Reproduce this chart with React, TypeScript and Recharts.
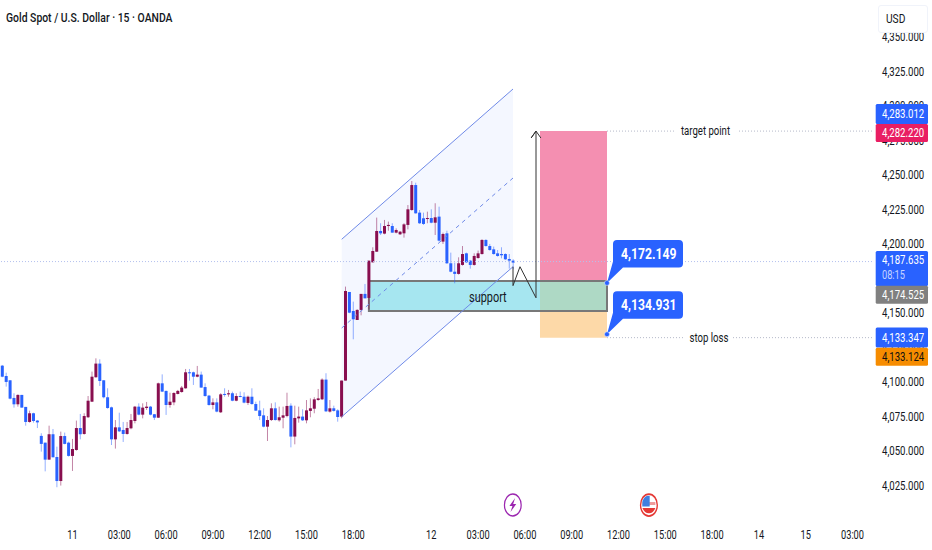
import {
  Area,
  Bar,
  ComposedChart,
  Line,
  ReferenceArea,
  ReferenceDot,
  ReferenceLine,
  XAxis,
  YAxis,
} from "recharts";

const FONT = "Roboto, sans-serif";
const UP = "#880e4f";
const DOWN = "#2962ff";

const opens = [
  4112.2, 4104.7, 4101.6, 4088.8, 4084.2, 4091.0, 4082.3, 4071.4, 4077.7, 4072.4,
  4061.3, 4056.4, 4044.1, 4062.5, 4046.0, 4028.6, 4061.2, 4056.4, 4046.8, 4051.1,
  4067.0, 4062.7, 4074.8, 4086.1, 4103.8, 4113.7, 4101.6, 4089.3, 4082.0, 4058.8,
  4067.5, 4065.6, 4062.7, 4066.8, 4072.1, 4082.5, 4076.7, 4081.5, 4082.5, 4077.0,
  4074.5, 4099.4, 4093.9, 4083.7, 4085.6, 4091.7, 4093.1, 4095.8, 4107.4, 4107.4,
  4104.2, 4105.7, 4096.7, 4090.5, 4083.7, 4085.6, 4078.4, 4091.7, 4091.4, 4092.2,
  4086.8, 4090.2, 4089.7, 4085.2, 4089.7, 4084.4, 4079.8, 4076.2, 4068.0, 4072.8,
  4081.3, 4072.6, 4074.5, 4075.7, 4083.2, 4060.8, 4074.0, 4075.3, 4072.6, 4079.4,
  4081.0, 4087.3, 4087.8, 4102.1, 4078.9, 4081.3, 4079.8, 4075.3, 4101.4, 4165.6,
  4151.8, 4145.3, 4152.6, 4164.2, 4161.3, 4187.1, 4194.8, 4209.8, 4207.9, 4213.4,
  4213.4, 4208.6, 4207.4, 4208.1, 4214.2, 4225.0, 4243.1, 4223.1, 4219.0, 4218.5,
  4219.2, 4215.8, 4220.2, 4202.1, 4208.1, 4186.4, 4180.3, 4178.7, 4185.2, 4193.6,
  4188.3, 4185.2, 4190.2, 4193.1, 4203.3, 4198.9, 4196.5, 4193.6, 4193.1, 4193.1,
  4189.5, 4188.3,
];
const closes = [
  4104.2, 4100.4, 4088.3, 4084.2, 4091.0, 4081.8, 4071.4, 4077.7, 4072.1, 4071.1,
  4055.5, 4044.1, 4062.5, 4045.8, 4028.6, 4061.2, 4055.5, 4046.8, 4051.8, 4067.0,
  4062.5, 4075.7, 4086.8, 4104.2, 4113.7, 4101.1, 4089.3, 4081.5, 4058.8, 4067.5,
  4064.6, 4062.7, 4067.0, 4072.8, 4082.5, 4076.7, 4081.8, 4082.5, 4076.7, 4074.5,
  4099.4, 4093.4, 4083.7, 4086.1, 4092.4, 4093.9, 4096.3, 4107.4, 4106.9, 4104.2,
  4105.7, 4096.3, 4090.2, 4083.7, 4085.6, 4078.9, 4091.4, 4091.2, 4092.2, 4086.8,
  4090.2, 4089.7, 4085.4, 4089.7, 4084.4, 4079.6, 4075.7, 4068.0, 4072.8, 4081.3,
  4072.8, 4074.8, 4076.2, 4083.0, 4060.8, 4074.3, 4075.3, 4072.6, 4079.8, 4081.3,
  4087.8, 4088.5, 4102.1, 4079.1, 4081.3, 4079.4, 4075.0, 4101.4, 4166.3, 4150.6,
  4145.8, 4152.6, 4164.2, 4161.0, 4188.3, 4195.3, 4209.8, 4208.1, 4213.4, 4214.2,
  4208.6, 4210.5, 4209.3, 4214.6, 4225.5, 4243.1, 4222.6, 4215.4, 4214.9, 4219.2,
  4215.8, 4219.7, 4202.8, 4207.6, 4186.4, 4180.3, 4178.7, 4186.4, 4193.1, 4187.1,
  4185.2, 4191.7, 4193.6, 4203.3, 4198.9, 4196.0, 4193.1, 4191.7, 4192.2, 4189.3,
  4188.3, 4186.9,
];
const highs = [
  4112.7, 4107.1, 4101.6, 4092.2, 4091.4, 4091.0, 4082.3, 4079.6, 4078.1, 4072.8,
  4063.2, 4056.4, 4068.7, 4066.3, 4053.5, 4064.4, 4063.7, 4057.1, 4059.1, 4072.4,
  4077.2, 4077.7, 4090.2, 4107.9, 4117.5, 4116.8, 4101.8, 4095.8, 4082.5, 4072.8,
  4078.1, 4071.4, 4071.4, 4077.2, 4083.0, 4084.9, 4084.9, 4085.9, 4083.0, 4077.2,
  4099.9, 4105.9, 4094.1, 4092.6, 4092.9, 4094.6, 4097.5, 4109.8, 4109.8, 4107.9,
  4112.0, 4107.9, 4099.4, 4091.0, 4088.5, 4088.5, 4092.2, 4095.8, 4094.6, 4093.4,
  4092.2, 4093.4, 4092.9, 4090.5, 4095.8, 4086.1, 4086.8, 4081.3, 4075.7, 4084.9,
  4085.6, 4082.5, 4082.5, 4092.6, 4084.9, 4083.2, 4082.5, 4080.6, 4087.3, 4088.5,
  4089.3, 4095.3, 4103.0, 4106.7, 4087.3, 4083.2, 4080.6, 4101.4, 4169.5, 4165.6,
  4158.6, 4153.1, 4164.2, 4171.4, 4188.3, 4198.0, 4219.5, 4215.4, 4217.8, 4216.6,
  4215.4, 4211.7, 4209.8, 4215.4, 4228.6, 4246.0, 4244.8, 4225.0, 4223.1, 4223.8,
  4225.5, 4229.9, 4227.4, 4208.6, 4210.0, 4194.1, 4186.9, 4190.7, 4198.9, 4194.1,
  4188.8, 4193.6, 4195.6, 4203.8, 4203.8, 4200.4, 4198.5, 4196.0, 4198.0, 4193.6,
  4193.1, 4189.3,
];
const lows = [
  4103.8, 4097.0, 4087.8, 4081.8, 4082.5, 4081.8, 4068.7, 4070.9, 4070.9, 4067.0,
  4049.9, 4035.6, 4044.1, 4045.8, 4024.1, 4025.3, 4055.2, 4046.3, 4035.9, 4050.6,
  4058.8, 4062.2, 4074.3, 4085.9, 4103.5, 4097.5, 4088.5, 4081.0, 4054.7, 4052.1,
  4064.1, 4056.9, 4062.2, 4066.1, 4070.4, 4076.2, 4074.0, 4080.1, 4076.2, 4072.8,
  4074.3, 4093.1, 4076.5, 4081.8, 4083.5, 4091.4, 4092.6, 4095.5, 4101.3, 4098.2,
  4103.8, 4096.3, 4089.7, 4083.2, 4080.6, 4078.4, 4077.9, 4089.7, 4089.7, 4086.4,
  4086.4, 4089.3, 4084.9, 4083.7, 4083.9, 4079.4, 4072.8, 4067.5, 4057.6, 4072.1,
  4072.4, 4071.6, 4066.8, 4074.8, 4053.0, 4055.2, 4070.9, 4072.1, 4070.4, 4074.8,
  4077.7, 4086.8, 4087.3, 4078.6, 4078.2, 4078.9, 4071.6, 4074.1, 4101.4, 4150.2,
  4131.3, 4145.3, 4148.7, 4161.0, 4153.1, 4186.9, 4194.6, 4206.9, 4207.4, 4210.0,
  4208.6, 4208.1, 4206.9, 4205.0, 4211.0, 4224.5, 4222.4, 4214.9, 4214.2, 4215.4,
  4215.4, 4206.9, 4202.1, 4200.4, 4185.9, 4179.9, 4171.9, 4178.2, 4184.7, 4186.6,
  4182.5, 4184.7, 4189.8, 4192.7, 4198.5, 4195.6, 4192.7, 4191.2, 4190.0, 4188.8,
  4182.5, 4182.0,
];

const candles = opens.map((open, i) => ({
  i,
  open,
  close: closes[i],
  range: [lows[i], highs[i]],
}));

const priceTicks = [
  4025, 4050, 4075, 4100, 4125, 4150, 4175, 4200, 4225, 4250, 4275, 4300, 4325, 4350,
];
const timeTicks = [18, 30, 42, 54, 66, 78, 90, 110, 122, 134, 146, 158, 170, 182, 194, 206, 218];
const timeLabels = [
  "11", "03:00", "06:00", "09:00", "12:00", "15:00", "18:00", "12", "03:00",
  "06:00", "09:00", "12:00", "15:00", "18:00", "14", "15", "03:00",
];

const xMin = -0.59;
const xMax = 223;

const channelBand = [
  { i: 87.03, band: [4075.2, 4203.8] },
  { i: 130.95, band: [4183.9, 4312.7] },
];
const channelLower = [
  { i: 87.03, v: 4075.2 },
  { i: 130.95, v: 4183.9 },
];
const channelUpper = [
  { i: 87.03, v: 4203.8 },
  { i: 130.95, v: 4312.7 },
];
const channelMiddle = [
  { i: 87.03, v: 4139.5 },
  { i: 130.95, v: 4248.2 },
];
const tradePath = [
  { i: 130.95, v: 4183.9 },
  { i: 130.95, v: 4170.2 },
  { i: 132.74, v: 4183.9 },
  { i: 136.85, v: 4161.4 },
  { i: 136.85, v: 4282.2 },
  { i: 135.6, v: 4277.2 },
  { i: 136.85, v: 4282.2 },
  { i: 138.1, v: 4277.2 },
];

const boxLeft = 94;
const riskLeft = 137.87;
const riskRight = 155.05;
const targetPrice = 4282.2;
const supportTop = 4173.6;
const supportBottom = 4151.8;
const stopPrice = 4132.5;
const lastPrice = 4187.635;
const entryCallout = 4172.149;
const stopCallout = 4134.931;

const priceTags = [
  { price: 4283.012, top: -26, h: 20, bg: "#2962ff", color: "#fff", text: "4,283.012" },
  { price: 4282.22, top: -7, h: 18, bg: "#e91e63", color: "#fff", text: "4,282.220" },
  { price: 4174.525, top: 6, h: 18, bg: "#808080", color: "#fff", text: "4,174.525" },
  { price: 4133.347, top: -9, h: 20, bg: "#2962ff", color: "#fff", text: "4,133.347" },
  { price: 4133.124, top: 11, h: 18, bg: "#f68c00", color: "#111", text: "4,133.124" },
];

// the reference is squeezed sideways, so its text is narrower than the font
function SqueezedText({ x, y, sx = 0.8, size = 12, weight = 400, color = "#131722", anchor = "start", children }: any) {
  return (
    <text
      transform={`translate(${x} ${y}) scale(${sx} 1)`}
      textAnchor={anchor}
      fontFamily={FONT}
      fontSize={size}
      fontWeight={weight}
      fill={color}
      dominantBaseline="central"
    >
      {children}
    </text>
  );
}

function Candle(props: any) {
  const { x, y, width, height, payload } = props;
  const [low, high] = payload.range;
  const k = high > low ? height / (high - low) : 0;
  const top = y + (high - Math.max(payload.open, payload.close)) * k;
  const bottom = y + (high - Math.min(payload.open, payload.close)) * k;
  const color = payload.close >= payload.open ? UP : DOWN;
  const mid = x + width / 2;
  return (
    <g>
      <line x1={mid} x2={mid} y1={y} y2={y + height} stroke={color} strokeOpacity={0.5} strokeWidth={1} />
      <rect x={mid - 1.5} y={top} width={3} height={Math.max(bottom - top, 1)} fill={color} />
    </g>
  );
}

function PriceTag({ cx, cy, top, h, bg, color, text }: any) {
  return (
    <g>
      <rect x={cx + 3.7} y={cy + top} width={52.3} height={h} rx={1.5} fill={bg} />
      <SqueezedText x={cx + 10} y={cy + top + h / 2 + 0.5} color={color}>
        {text}
      </SqueezedText>
    </g>
  );
}

function LastTag({ cx, cy }: any) {
  return (
    <g>
      <rect x={cx + 3.7} y={cy - 10.5} width={52.3} height={35} rx={1.5} fill="#2962ff" />
      <SqueezedText x={cx + 10} y={cy - 1} color="#fff">
        4,187.635
      </SqueezedText>
      <SqueezedText x={cx + 10} y={cy + 14} sx={0.77} color="#c4d3ff">
        08:15
      </SqueezedText>
    </g>
  );
}

function Callout({ cx, cy, text }: any) {
  const l = cx + 6;
  const r = cx + 76;
  const t = cy - 43;
  const b = cy - 15.5;
  const d = `M${l + 4} ${t} H${r - 4} Q${r} ${t} ${r} ${t + 4} V${b - 4} Q${r} ${b} ${r - 4} ${b}
    H${l + 10} L${cx} ${cy} L${l} ${b - 6} V${t + 4} Q${l} ${t} ${l + 4} ${t} Z`;
  return (
    <g>
      <path d={d} fill="#2962ff" />
      <circle cx={cx} cy={cy} r={2.5} fill="#2962ff" stroke="#fff" strokeWidth={0.5} />
      <SqueezedText x={l + 8} y={t + 14} sx={0.87} size={14} weight={700} color="#fff">
        {text}
      </SqueezedText>
    </g>
  );
}

function NoteLabel({ cx, cy, text, w }: any) {
  return (
    <g>
      <rect x={cx - w / 2 - 6} y={cy - 8} width={w + 12} height={16} fill="#fff" />
      <SqueezedText x={cx} y={cy} anchor="middle">
        {text}
      </SqueezedText>
    </g>
  );
}

function SupportLabel({ cx, cy }: any) {
  return (
    <SqueezedText x={cx} y={cy} sx={0.78} size={14} anchor="middle">
      support
    </SqueezedText>
  );
}

function BoltIcon({ cx, cy }: any) {
  return (
    <g transform={`translate(${cx} ${cy}) scale(0.76 1)`}>
      <circle r={11} fill="#fff" stroke="#9c27b0" strokeWidth={1.6} />
      <path d="M3 -7 L-4.5 1 H-0.5 L-3 7 L4.5 -1 H0.5 Z" fill="#9c27b0" />
    </g>
  );
}

function FlagIcon({ cx, cy }: any) {
  return (
    <g transform={`translate(${cx} ${cy}) scale(0.76 1)`}>
      <circle r={11} fill="#fff" stroke="#e53935" strokeWidth={1.8} />
      <path d="M-8.5 -3 H8.5 V0 H-8.5 Z" fill="#ef9a9a" />
      <path d="M-8.5 3 H8.5 A9.5 9.5 0 0 1 -8.5 3 Z" fill="#e53935" />
      <path d="M-8.5 -4 A9.5 9.5 0 0 1 1 -9.2 V1.5 H-8.8 Z" fill="#3f7fe0" />
    </g>
  );
}

function PriceTick({ x, y, payload }: any) {
  return (
    <SqueezedText x={x} y={y}>
      {payload.value.toLocaleString("en-US", { minimumFractionDigits: 3 })}
    </SqueezedText>
  );
}

function TimeTick({ x, y, index }: any) {
  return (
    <SqueezedText x={x} y={y} sx={0.77} anchor="middle">
      {timeLabels[index]}
    </SqueezedText>
  );
}

export default function App() {
  return (
    <div style={{ position: "absolute", left: 0, top: 0, width: 932, height: 550, background: "#fff" }}>
      <ComposedChart
        width={932}
        height={550}
        data={candles}
        margin={{ top: 0, right: 0, bottom: 0, left: 0 }}
      >
        <XAxis
          dataKey="i"
          type="number"
          domain={[xMin, xMax]}
          allowDataOverflow
          ticks={timeTicks}
          interval={0}
          height={28}
          tickLine={false}
          axisLine={false}
          tickSize={0}
          tickMargin={13}
          tick={<TimeTick />}
        />
        <YAxis
          orientation="right"
          type="number"
          domain={[3998.9, 4377.2]}
          allowDataOverflow
          ticks={priceTicks}
          interval={0}
          width={60}
          tickLine={false}
          axisLine={false}
          tickSize={0}
          tickMargin={10}
          tick={<PriceTick />}
        />

        <Area
          data={channelBand}
          dataKey="band"
          type="linear"
          stroke="none"
          fill="#2962ff"
          fillOpacity={0.05}
          dot={false}
          activeDot={false}
          isAnimationActive={false}
        />
        <ReferenceArea x1={riskLeft} x2={riskRight} y1={supportTop} y2={targetPrice} fill="#f48fb1" fillOpacity={1} stroke="none" />
        <ReferenceArea x1={riskLeft} x2={riskRight} y1={supportBottom} y2={supportTop} fill="#aed9c5" fillOpacity={1} stroke="none" />
        <ReferenceArea x1={riskLeft} x2={riskRight} y1={stopPrice} y2={supportBottom} fill="#fdd9a8" fillOpacity={1} stroke="none" />
        <ReferenceArea x1={boxLeft} x2={riskLeft} y1={supportBottom} y2={supportTop} fill="#a6e6f0" fillOpacity={1} stroke="none" />
        <ReferenceArea x1={boxLeft} x2={riskRight} y1={supportBottom} y2={supportTop} fill="none" stroke="#787878" strokeWidth={2} />

        <ReferenceLine y={lastPrice} stroke="#b4c0ee" strokeDasharray="1 2" />
        <ReferenceLine
          segment={[
            { x: riskRight, y: targetPrice },
            { x: xMax, y: targetPrice },
          ]}
          stroke="#b4b8c8"
          strokeDasharray="1 2"
        />
        <ReferenceLine
          segment={[
            { x: riskRight, y: stopPrice },
            { x: xMax, y: stopPrice },
          ]}
          stroke="#b4b8c8"
          strokeDasharray="1 2"
        />

        <Line data={channelUpper} dataKey="v" type="linear" stroke="#6f8ae8" strokeWidth={1} dot={false} activeDot={false} isAnimationActive={false} />
        <Line data={channelLower} dataKey="v" type="linear" stroke="#6f8ae8" strokeWidth={1} dot={false} activeDot={false} isAnimationActive={false} />
        <Line data={channelMiddle} dataKey="v" type="linear" stroke="#6f8ae8" strokeWidth={1} strokeDasharray="4 4" dot={false} activeDot={false} isAnimationActive={false} />

        <Bar dataKey="range" barSize={3} shape={<Candle />} isAnimationActive={false} />

        <Line data={tradePath} dataKey="v" type="linear" stroke="#333" strokeWidth={1} dot={false} activeDot={false} isAnimationActive={false} />

        <ReferenceDot x={124.5} y={4162} shape={<SupportLabel />} />
        <ReferenceDot x={180.3} y={targetPrice} shape={<NoteLabel text="target point" w={51} />} />
        <ReferenceDot x={181.2} y={stopPrice} shape={<NoteLabel text="stop loss" w={36} />} />
        <ReferenceDot x={riskRight} y={entryCallout} shape={<Callout text="4,172.149" />} />
        <ReferenceDot x={riskRight} y={stopCallout} shape={<Callout text="4,134.931" />} />
        <ReferenceDot x={130.9} y={4011.2} shape={<BoltIcon />} />
        <ReferenceDot x={165.8} y={4011.2} shape={<FlagIcon />} />

        <ReferenceDot x={xMax} y={lastPrice} zIndex={3000} shape={<LastTag />} />
        {priceTags.map((t) => (
          <ReferenceDot key={t.text} x={xMax} y={t.price} zIndex={3000} shape={<PriceTag {...t} />} />
        ))}
      </ComposedChart>

      <div
        style={{
          position: "absolute",
          left: 6,
          top: 10,
          fontFamily: FONT,
          fontSize: 13,
          fontWeight: 500,
          color: "#131722",
          whiteSpace: "nowrap",
          transform: "scaleX(0.8)",
          transformOrigin: "left center",
        }}
      >
        Gold Spot / U.S. Dollar · 15 · OANDA
      </div>
      <div
        style={{
          position: "absolute",
          left: 878,
          top: 5,
          width: 50,
          height: 28,
          boxSizing: "border-box",
          background: "#fff",
          border: "1px solid #f0f3fa",
          borderRadius: 3,
          fontFamily: FONT,
          fontSize: 12,
          color: "#131722",
          lineHeight: "26px",
          paddingLeft: 7,
        }}
      >
        <span style={{ display: "inline-block", transform: "scaleX(0.85)", transformOrigin: "left center" }}>USD</span>
      </div>
    </div>
  );
}
